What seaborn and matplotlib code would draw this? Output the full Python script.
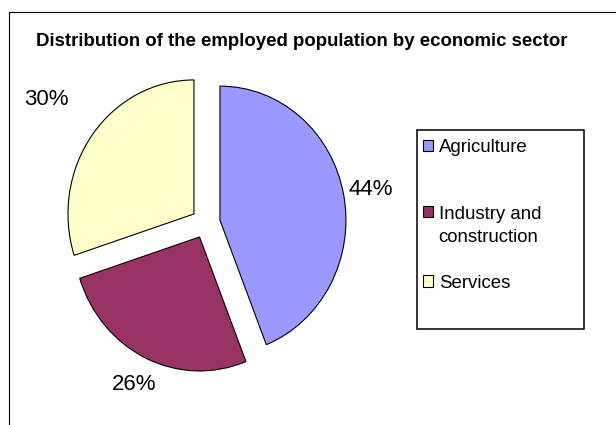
import matplotlib
matplotlib.use("Agg")
import numpy as np
import matplotlib.pyplot as plt
from matplotlib.patches import Rectangle
from matplotlib.legend_handler import HandlerPatch
import seaborn as sns

# Employed population by economic sector (%)
sectors = ["Agriculture", "Industry and\nconstruction", "Services"]
shares = [44, 26, 30]
sector_colors = ["#9999FF", "#993366", "#FFFFCC"]
title = "Distribution of the employed population by economic sector"

sns.set_style("white")
plt.rcParams["font.family"] = ["Liberation Sans", "DejaVu Sans"]
plt.rcParams["text.color"] = "black"

W, H = 616, 425
fig = plt.figure(figsize=(W / 100, H / 100), dpi=100)
fig.patch.set_facecolor("white")

# outer chart border (open towards right and bottom edges)
fig.patches.append(Rectangle((9 / W, -0.05), 1.1, 1.05 - 12 / H,
                             transform=fig.transFigure, fill=False,
                             edgecolor="black", linewidth=0.8))

# pie axes spans the figure; limits place the pie centre/radius
ax = fig.add_axes([0, 0, 1, 1])
palette = sns.color_palette(sector_colors)
cx, cy, rx, ry = 205.7, 425 - 223, 126, 134
wedges, _, autotexts = ax.pie(
    shares, colors=palette, startangle=90, counterclock=False,
    explode=[0.115] * len(shares), labels=None,
    autopct=lambda p: f"{p:.0f}%", pctdistance=1.22,
    wedgeprops=dict(edgecolor="black", linewidth=0.8),
    textprops=dict(fontsize=16, color="black"))

# percentage labels sit outside each slice's outer end
label_dist = [1.22, 1.22, 1.45]
for w, t, d in zip(wedges, autotexts, label_dist):
    ang = np.deg2rad((w.theta1 + w.theta2) / 2)
    x0, y0 = w.center
    t.set_position((x0 + d * np.cos(ang), y0 + d * np.sin(ang)))

ax.set_aspect("auto")
ax.set_xlim(-cx / rx, (W - cx) / rx)
ax.set_ylim(-cy / ry, (H - cy) / ry)
ax.axis("off")

fig.text(302 / W, 1 - 46 / H, title, ha="center", va="baseline",
         fontsize=13.4, fontweight="bold", color="black")

# legend box
lx0, ly0, lx1, ly1 = 417, 130, 584, 329
fig.patches.append(Rectangle((lx0 / W, 1 - ly1 / H), (lx1 - lx0) / W,
                             (ly1 - ly0) / H, transform=fig.transFigure,
                             facecolor="white", edgecolor="black",
                             linewidth=1.1, zorder=2))


def first_line_patch(legend, orig_handle, xdescent, ydescent, width, height, fontsize):
    return Rectangle((-xdescent, -ydescent + 10.2), width, height)


leg_kw = dict(frameon=False, fontsize=13.4, handlelength=0.54,
              handleheight=0.54, handletextpad=0.3, borderpad=0,
              borderaxespad=0, bbox_transform=fig.transFigure,
              labelcolor="black")

legA = fig.legend([wedges[0]], [sectors[0]], loc="center left",
                  bbox_to_anchor=(423 / W, 1 - 148 / H), **leg_kw)
legB = fig.legend(wedges[1:], sectors[1:], loc="upper left",
                  bbox_to_anchor=(423 / W, 1 - 206 / H), labelspacing=1.55,
                  handler_map={wedges[1]: HandlerPatch(patch_func=first_line_patch)},
                  **leg_kw)
legB.get_texts()[0].set_linespacing(1.44)
for lg in (legA, legB):
    lg.set_zorder(3)

fig.savefig("out.png", dpi=100)
